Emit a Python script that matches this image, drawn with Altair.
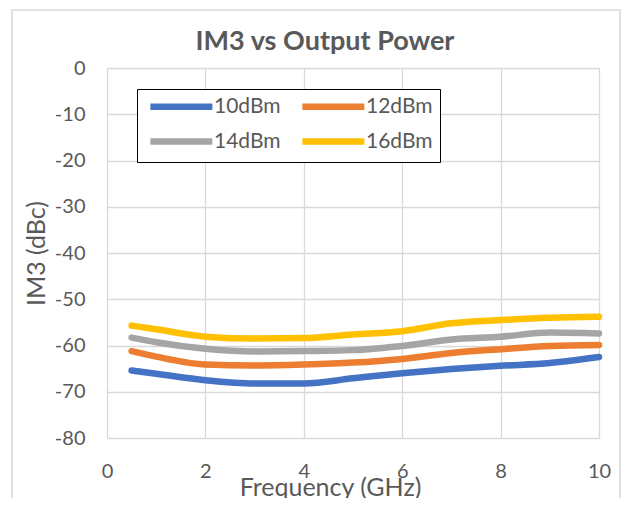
import altair as alt
import pandas as pd

freq = [0.5, 1, 2, 3, 4, 5, 6, 7, 8, 9, 10]
series_names = ["10dBm", "12dBm", "14dBm", "16dBm"]
im3_10 = [-65.4, -66.1, -67.5, -68.2, -68.2, -67.1, -66.0, -65.1, -64.4, -63.8, -62.5]
im3_12 = [-61.2, -62.4, -64.1, -64.3, -64.1, -63.7, -62.9, -61.6, -60.8, -60.1, -59.9]
im3_14 = [-58.3, -59.3, -60.7, -61.3, -61.2, -61.0, -60.1, -58.7, -58.1, -57.2, -57.4]
im3_16 = [-55.7, -56.5, -58.1, -58.5, -58.4, -57.6, -56.9, -55.2, -54.5, -54.0, -53.8]
colors = ["#4472C4", "#ED7D31", "#A5A5A5", "#FFC000"]
chart_title = "IM3 vs Output Power"

rows = []
for name, vals in zip(series_names, [im3_10, im3_12, im3_14, im3_16]):
    for f, v in zip(freq, vals):
        rows.append({"Frequency": f, "IM3": v, "Series": name})
df = pd.DataFrame(rows)

FONT = "Lato"
TXT = "#595959"

one = pd.DataFrame({"t": [chart_title]})

border = alt.Chart(one).mark_rect(
    fill=None, stroke="#D9D9D9", strokeWidth=1.5, clip=False
).encode(
    x=alt.value(-95), x2=alt.value(513), y=alt.value(-58), y2=alt.value(440)
)

title = alt.Chart(one).mark_text(
    font=FONT, fontSize=27, fontWeight="bold", color=TXT,
    align="center", baseline="middle", clip=False
).encode(text="t:N", x=alt.value(218), y=alt.value(-26))

lines = alt.Chart(df).mark_line(
    strokeWidth=6.5, strokeCap="round", strokeJoin="round", interpolate="monotone"
).encode(
    x=alt.X("Frequency:Q",
            scale=alt.Scale(domain=[0, 10], nice=False),
            axis=alt.Axis(values=[0, 2, 4, 6, 8, 10], title="Frequency (GHz)",
                          grid=True, gridColor="#D9D9D9", gridWidth=1.3,
                          domain=False, ticks=False, labelPadding=23,
                          labelFlush=False,
                          labelFontSize=20, labelColor=TXT, labelFont=FONT,
                          titleFontSize=25, titleColor=TXT, titleFont=FONT,
                          titleFontWeight="normal", titleX=223, titleY=49,
                          titleBaseline="middle", titleAlign="center")),
    y=alt.Y("IM3:Q",
            scale=alt.Scale(domain=[-80, 0], nice=False),
            axis=alt.Axis(values=list(range(-80, 1, 10)), title="IM3 (dBc)",
                          labelExpr="'' + datum.value",
                          grid=True, gridColor="#D9D9D9", gridWidth=1.3,
                          domain=False, ticks=False, labelPadding=22,
                          labelFlush=False,
                          labelFontSize=20, labelColor=TXT, labelFont=FONT,
                          titleFontSize=25, titleColor=TXT, titleFont=FONT,
                          titleFontWeight="normal", titlePadding=5)),
    color=alt.Color("Series:N",
                    scale=alt.Scale(domain=series_names, range=colors),
                    legend=alt.Legend(
                        title=None, orient="none", legendX=30, legendY=21,
                        direction="horizontal", columns=2,
                        symbolType="M-0.58,0H8.12", symbolSize=203,
                        symbolStrokeWidth=6.5,
                        labelFontSize=21,
                        labelColor=TXT, labelFont=FONT, labelOffset=49,
                        columnPadding=8, rowPadding=8,
                        fillColor="white", strokeColor="black",
                        padding=7)),
    detail="Series:N",
)

chart = alt.layer(border, lines, title).properties(
    width=492, height=370,
    autosize=alt.AutoSizeParams(type="none"),
    padding={"left": 99, "top": 60, "right": 22, "bottom": 60},
).configure_view(stroke="black", strokeWidth=1.8).configure(background="white")

chart.save("out.html", embed_options={"renderer": "svg", "actions": False})
